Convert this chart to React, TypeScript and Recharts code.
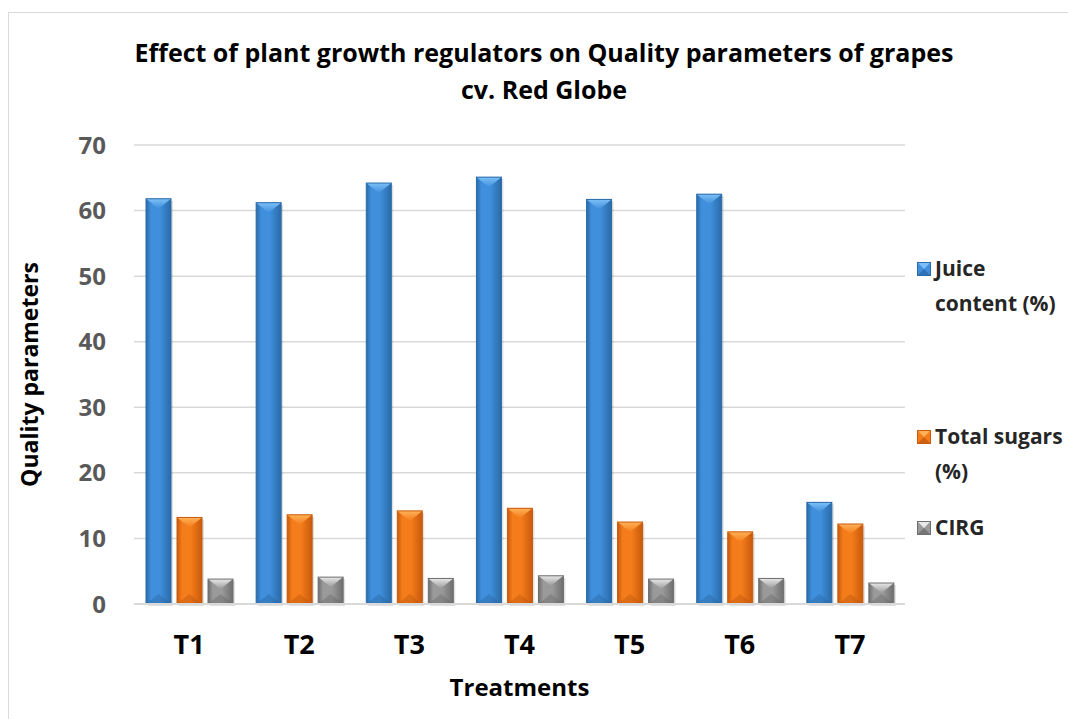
import { BarChart, Bar, XAxis, YAxis, CartesianGrid } from 'recharts';

const treatments = ['T1', 'T2', 'T3', 'T4', 'T5', 'T6', 'T7'];
const juiceContent = [61.8, 61.2, 64.2, 65.1, 61.7, 62.5, 15.5];
const totalSugars = [13.2, 13.6, 14.2, 14.6, 12.5, 11.0, 12.2];
const cirg = [3.8, 4.1, 3.9, 4.3, 3.8, 3.9, 3.2];
const yTicks = [0, 10, 20, 30, 40, 50, 60, 70];

const SERIES = [
  { key: 'juice', name: 'Juice content (%)', lines: ['Juice', 'content (%)'], values: juiceContent, dark: '#2a6aa8', mid: '#3f8fdc', light: '#7cc0f7', shade: '#245e96' },
  { key: 'sugar', name: 'Total sugars (%)', lines: ['Total sugars', '(%)'], values: totalSugars, dark: '#c95a0c', mid: '#f47c1a', light: '#ffb259', shade: '#b2500b' },
  { key: 'cirg', name: 'CIRG', lines: ['CIRG'], values: cirg, dark: '#6e6e6e', mid: '#9a9a9a', light: '#e8e8e8', shade: '#5e5e5e' },
];

// legend entry tops (px), excel spreads them unevenly
const LEGEND_TOPS = [251, 419, 510];

const data = treatments.map((t, i) => ({
  name: t,
  juice: juiceContent[i],
  sugar: totalSugars[i],
  cirg: cirg[i],
}));

const FONT = "'Open Sans', sans-serif";

// bevelled bar like excel's "angle" preset
const bevelBar = (s: (typeof SERIES)[number]) => (props: any) => {
  const { x, y, width: w, height: h } = props;
  if (!h || h <= 0) return null;
  const d = Math.min(w / 2, h / 2, 10);
  return (
    <g>
      <rect x={x + 2} y={y + 2} width={w} height={h} fill="#000" opacity={0.12} />
      <rect x={x} y={y} width={w} height={h} fill={`url(#g-${s.key})`} />
      <polygon points={`${x},${y} ${x + w},${y} ${x + w / 2},${y + d}`} fill={`url(#t-${s.key})`} />
      <polygon points={`${x},${y + h} ${x + w},${y + h} ${x + w / 2},${y + h - d}`} fill={s.shade} opacity={0.35} />
      <rect x={x} y={y} width={w} height={h} fill="none" stroke={s.dark} strokeWidth={1} />
    </g>
  );
};

const Swatch = ({ s }: { s: (typeof SERIES)[number] }) => (
  <svg width={14} height={14} style={{ marginRight: 4, marginTop: 11, flex: 'none' }}>
    <rect x={0} y={0} width={14} height={14} fill={s.mid} />
    <polygon points="0,0 14,0 7,7" fill={s.light} />
    <polygon points="0,14 14,14 7,7" fill={s.shade} opacity={0.6} />
    <rect x={0.5} y={0.5} width={13} height={13} fill="none" stroke={s.dark} />
  </svg>
);

export default function App() {
  return (
    <div style={{ position: 'fixed', left: 0, top: 0, width: 1068, height: 719, overflow: 'hidden', fontFamily: FONT, background: '#fff' }}>
      <div
        style={{
          position: 'absolute',
          left: 8,
          top: 12,
          width: 1200,
          height: 800,
          border: '1.5px solid #d9d9d9',
          boxSizing: 'border-box',
        }}
      />
      <div
        style={{
          position: 'absolute',
          left: 0,
          top: 34,
          width: 1088,
          textAlign: 'center',
          fontWeight: 700,
          fontSize: 25,
          lineHeight: '37px',
          color: '#000',
        }}
      >
        Effect of plant growth regulators on Quality parameters of grapes
        <br />
        cv. Red Globe
      </div>
      <BarChart
        width={1068}
        height={719}
        data={data}
        margin={{ top: 145, right: 163, bottom: 15, left: 74 }}
        barSize={25}
        barGap={6}
        style={{ position: 'absolute', left: 0, top: 0 }}
      >
        <defs>
          {SERIES.map((s) => (
            <linearGradient key={`g-${s.key}`} id={`g-${s.key}`} x1="0" y1="0" x2="1" y2="0">
              <stop offset="0%" stopColor={s.dark} />
              <stop offset="20%" stopColor={s.mid} />
              <stop offset="55%" stopColor={s.mid} />
              <stop offset="100%" stopColor={s.dark} />
            </linearGradient>
          ))}
          {SERIES.map((s) => (
            <linearGradient key={`t-${s.key}`} id={`t-${s.key}`} x1="0" y1="0" x2="0" y2="1">
              <stop offset="0%" stopColor={s.light} />
              <stop offset="100%" stopColor={s.mid} />
            </linearGradient>
          ))}
        </defs>
        <CartesianGrid vertical={false} stroke="#d9d9d9" strokeWidth={1.5} />
        <XAxis
          dataKey="name"
          height={100}
          tickLine={false}
          tickSize={0}
          tickMargin={31}
          axisLine={{ stroke: '#d9d9d9', strokeWidth: 2 }}
          tick={{ fill: '#000', fontSize: 27, fontWeight: 700, fontFamily: FONT }}
          label={{
            value: 'Treatments',
            position: 'insideBottom',
            offset: 8,
            fill: '#000',
            fontSize: 24,
            fontWeight: 700,
            fontFamily: FONT,
          }}
        />
        <YAxis
          width={60}
          domain={[0, 70]}
          ticks={yTicks}
          interval={0}
          tickLine={false}
          tickSize={0}
          tickMargin={28}
          axisLine={false}
          tick={{ fill: '#595959', fontSize: 24, fontWeight: 700, fontFamily: FONT }}
          label={{
            value: 'Quality parameters',
            angle: -90,
            position: 'insideLeft',
            dx: -49,
            fill: '#000',
            fontSize: 23,
            fontWeight: 700,
            fontFamily: FONT,
            style: { textAnchor: 'middle' },
          }}
        />
        {SERIES.map((s) => (
          <Bar key={s.key} dataKey={s.key} name={s.name} fill={s.mid} shape={bevelBar(s)} isAnimationActive={false} />
        ))}
      </BarChart>
      {SERIES.map((s, i) => (
        <div
          key={s.key}
          style={{
            position: 'absolute',
            left: 917,
            top: LEGEND_TOPS[i],
            display: 'flex',
            alignItems: 'flex-start',
            whiteSpace: 'nowrap',
            color: '#262626',
            fontWeight: 700,
            fontSize: 21,
            lineHeight: '35px',
          }}
        >
          <Swatch s={s} />
          <div>
            {s.lines.map((l) => (
              <div key={l}>{l}</div>
            ))}
          </div>
        </div>
      ))}
    </div>
  );
}
